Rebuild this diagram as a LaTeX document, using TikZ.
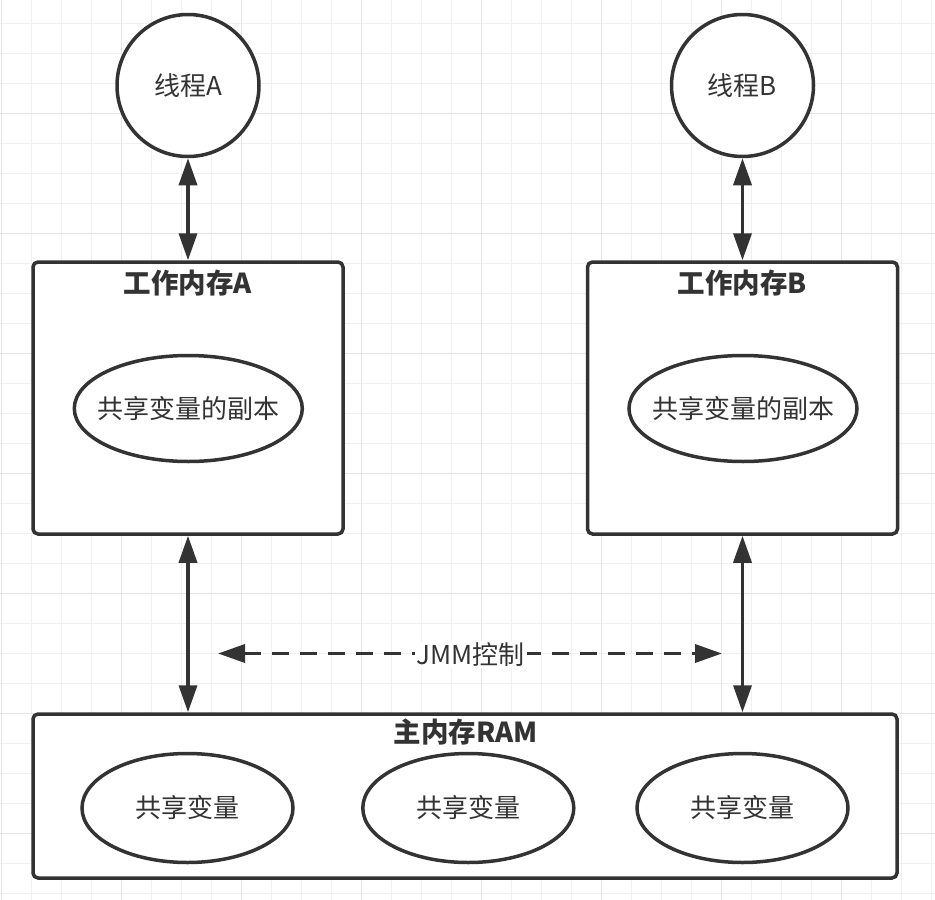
\documentclass[tikz,border=0pt]{standalone}
\usepackage{fontspec}
\setmainfont{Noto Sans CJK SC}
\usetikzlibrary{arrows.meta,shapes.geometric}
\definecolor{ink}{HTML}{333333}
\definecolor{gridminor}{HTML}{F0F0F0}
\definecolor{gridmajor}{HTML}{E6E6E6}
\begin{document}
\begin{tikzpicture}[x=1pt,y=-1pt,
  every node/.style={text=ink, font=\fontsize{26}{30}\selectfont},
  every label/.style={text=ink, font=\fontsize{26}{30}\selectfont, inner sep=0pt},
  gridline/.style={draw=gridminor, line width=1pt},
  gridbold/.style={draw=gridmajor, line width=1pt},
  thread/.style={circle, draw=ink, fill=white, line width=3.5pt, minimum size=142pt, inner sep=0pt},
  membox/.style={draw=ink, fill=white, line width=3.5pt, rounded corners=5pt, inner sep=0pt},
  varell/.style={ellipse, draw=ink, fill=white, line width=3.5pt, inner sep=0pt},
  titletext/.style={font=\fontsize{27.5}{30}\selectfont\bfseries, inner sep=0pt},
  link/.style={draw=ink, line width=3.5pt, {Triangle[length=27pt,width=18pt]}-{Triangle[length=27pt,width=18pt]}},
  jmmline/.style={draw=ink, line width=3.5pt, dash pattern=on 17pt off 11pt, {Triangle[length=27pt,width=18pt]}-{Triangle[length=27pt,width=18pt]}}
]
\fill[white] (0,0) rectangle (935,900);
\useasboundingbox (0,0) rectangle (935,900);
% grid
\foreach \i in {0,...,31} \draw[gridline] ({1.7+30*\i},0) -- ({1.7+30*\i},900);
\foreach \j in {0,...,29} \draw[gridline] (0,{23.3+30*\j}) -- (935,{23.3+30*\j});
\foreach \i in {0,...,7} \draw[gridbold] ({1.7+120*\i},0) -- ({1.7+120*\i},900);
\foreach \j in {0,...,6} \draw[gridbold] (0,{113.3+120*\j}) -- (935,{113.3+120*\j});

% threads
\node[thread] (thA) at (188,85.5) {线程A};
\node[thread] (thB) at (742.5,85.5) {线程B};

% working memories
\node[membox, minimum width=310pt, minimum height=272pt] (wmA) at (188,398) {};
\node[membox, minimum width=310pt, minimum height=272pt] (wmB) at (742.5,398) {};
\node[titletext] (tA) at (188,283) {工作内存A};
\node[titletext] (tB) at (742.5,283) {工作内存B};
\node[varell, minimum width=228pt, minimum height=106pt, label=center:共享变量的副本] (cA) at (188.3,408.5) {};
\node[varell, minimum width=228pt, minimum height=106pt, label=center:共享变量的副本] (cB) at (743,408.5) {};

% main memory
\node[membox, minimum width=864pt, minimum height=164pt] (mainmem) at (465,796) {};
\node[titletext] (tM) at (465.8,732) {主内存RAM};
\node[varell, minimum width=211pt, minimum height=109pt, label=center:共享变量] (v1) at (187.5,808) {};
\node[varell, minimum width=211pt, minimum height=109pt, label=center:共享变量] (v2) at (468.3,808) {};
\node[varell, minimum width=211pt, minimum height=109pt, label=center:共享变量] (v3) at (742.5,808) {};

% connectors
\draw[link] (thA) -- (wmA);
\draw[link] (thB) -- (wmB);
\draw[link] (wmA) -- (wmA |- mainmem.north);
\draw[link] (wmB) -- (wmB |- mainmem.north);

\coordinate (jl) at (218,653.5);
\coordinate (jr) at (722,653.5);
\draw[jmmline] (jl) -- (jr);
\node[fill=white, inner xsep=2pt, inner ysep=1pt] (jmm) at (470.8,655) {JMM控制};
\end{tikzpicture}
\end{document}
